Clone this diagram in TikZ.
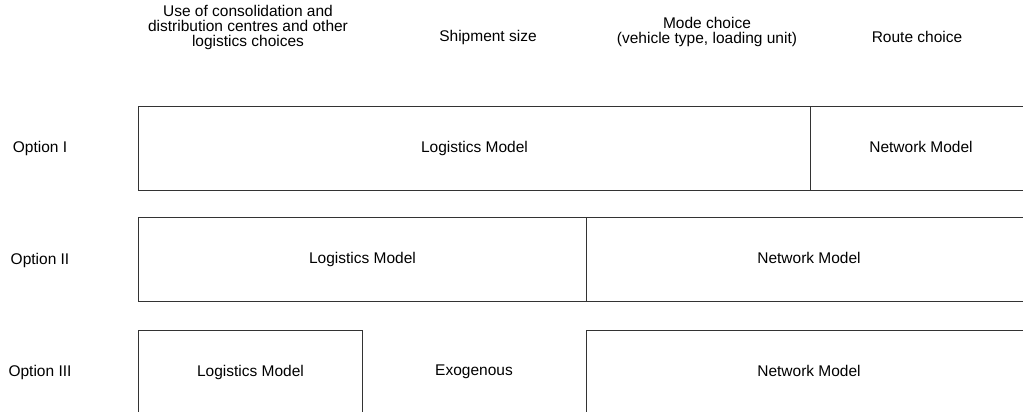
\documentclass[tikz,border=0pt]{standalone}
\usepackage{fontspec}
\setmainfont{Liberation Sans}
\tikzset{
  model/.style={draw=black!80, line width=1pt, inner sep=0pt, minimum height=84pt, text height=11pt, text depth=3pt, anchor=north west},
  txt/.style={align=center, inner sep=0pt}
}
\begin{document}
\begin{tikzpicture}[x=1pt, y=-1pt, font=\fontsize{15.5}{15}\selectfont]
		\useasboundingbox (0,0) rectangle (1023,412);
		\clip (0,0) rectangle (1023,412);                                   % Boxes run past the edge
		% Column headings
		\node[txt] (hcons) at (248,27) {Use of consolidation and\\distribution centres and other\\logistics choices};
		\node[txt] (hsize) at (488,37) {Shipment size};
		\node[txt] (hmode) at (707,32) {Mode choice\\(vehicle type, loading unit)};
		\node[txt] (hroute) at (917,37) {Route choice};
		% Option I
		\node[txt] (opt1) at (40,148) {Option I};
		\node[model, minimum width=672pt] (log1) at (138,106) {Logistics Model};
		\node[model, minimum width=221pt] (net1) at (810,106) {Network Model};
		% Option II
		\node[txt] (opt2) at (40,260) {Option II};
		\node[model, minimum width=448pt] (log2) at (138,217) {Logistics Model};
		\node[model, minimum width=445pt] (net2) at (586,217) {Network Model};
		% Option III
		\node[txt] (opt3) at (40,372) {Option III};
		\node[model, minimum width=224pt] (log3) at (138,330) {Logistics Model};
		\node[txt] (exo3) at (474,372) {Exogenous};
		\node[model, minimum width=445pt] (net3) at (586,330) {Network Model};
	\end{tikzpicture}
\end{document}
